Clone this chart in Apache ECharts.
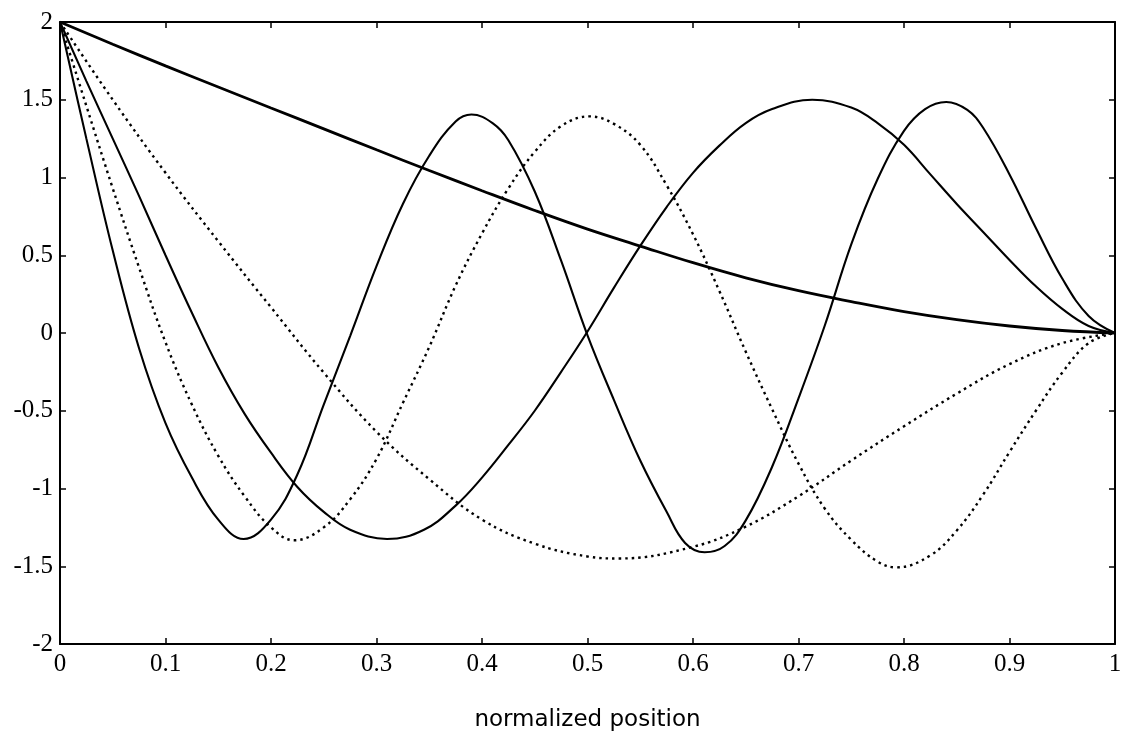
<!DOCTYPE html>
<html>
<head>
<meta charset="utf-8">
<script src="https://cdn.jsdelivr.net/npm/echarts@6/dist/echarts.min.js"></script>
<style>
  html, body { margin: 0; padding: 0; background: #fff; }
  #chart { width: 1128px; height: 744px; }
</style>
</head>
<body>
<div id="chart"></div>
<script>
// Sample positions (normalized) and mode-shape values, one pair of arrays per mode
const mode1Pos = [0, 0.05, 0.1, 0.15, 0.2, 0.25, 0.3, 0.35, 0.4, 0.45, 0.5,
  0.55, 0.6, 0.65, 0.7, 0.75, 0.8, 0.85, 0.9, 0.95, 1];
const mode1 = [2, 1.857, 1.718, 1.582, 1.447, 1.313, 1.178, 1.045, 0.915, 0.788, 0.668,
  0.559, 0.452, 0.355, 0.272, 0.202, 0.138, 0.086, 0.045, 0.016, 0];

const mode2Pos = [0, 0.05, 0.1, 0.15, 0.2, 0.25, 0.3, 0.35, 0.4, 0.45, 0.5,
  0.53, 0.6, 0.65, 0.7, 0.75, 0.8, 0.85, 0.9, 0.95, 1];
const mode2 = [2, 1.5, 1.03, 0.59, 0.165, -0.255, -0.635, -0.94, -1.2, -1.355, -1.437,
  -1.45, -1.375, -1.245, -1.05, -0.82, -0.6, -0.39, -0.2, -0.065, 0];

const mode3Pos = [0, 0.025, 0.05, 0.075, 0.1, 0.125, 0.15, 0.175, 0.2, 0.225,
  0.25, 0.275, 0.31, 0.345, 0.375, 0.4, 0.425, 0.45, 0.475, 0.5,
  0.525, 0.55, 0.575, 0.6, 0.625, 0.65, 0.675, 0.713, 0.75, 0.775,
  0.8, 0.825, 0.85, 0.875, 0.9, 0.925, 0.95, 0.975, 1];
const mode3 = [2, 1.62, 1.25, 0.88, 0.5, 0.13, -0.22, -0.52, -0.77, -0.99,
  -1.15, -1.265, -1.325, -1.265, -1.11, -0.93, -0.72, -0.5, -0.25, 0.01,
  0.29, 0.56, 0.81, 1.03, 1.205, 1.35, 1.44, 1.5, 1.45, 1.35,
  1.21, 1.02, 0.83, 0.65, 0.47, 0.3, 0.155, 0.045, 0];

const mode4Pos = [0, 0.025, 0.05, 0.075, 0.1, 0.125, 0.15, 0.175, 0.2, 0.222,
  0.25, 0.275, 0.3, 0.325, 0.35, 0.375, 0.4, 0.425, 0.45, 0.475,
  0.502, 0.525, 0.55, 0.575, 0.6, 0.625, 0.65, 0.675, 0.7, 0.725,
  0.75, 0.775, 0.793, 0.825, 0.85, 0.875, 0.9, 0.925, 0.95, 0.975, 1];
const mode4 = [2, 1.46, 0.93, 0.42, -0.06, -0.46, -0.79, -1.05, -1.25, -1.333,
  -1.25, -1.07, -0.81, -0.45, -0.09, 0.305, 0.64, 0.93, 1.165, 1.33,
  1.393, 1.345, 1.21, 0.95, 0.635, 0.27, -0.12, -0.49, -0.84, -1.13,
  -1.33, -1.47, -1.507, -1.43, -1.27, -1.04, -0.765, -0.5, -0.255, -0.065, 0];

const mode5Pos = [0, 0.025, 0.05, 0.075, 0.1, 0.125, 0.15, 0.174, 0.2, 0.225,
  0.25, 0.275, 0.3, 0.325, 0.35, 0.375, 0.39, 0.41, 0.425, 0.45,
  0.475, 0.5, 0.525, 0.55, 0.575, 0.5925, 0.611, 0.63, 0.65, 0.675,
  0.7, 0.725, 0.75, 0.775, 0.8, 0.82, 0.84, 0.86, 0.875, 0.9,
  0.925, 0.95, 0.975, 1];
const mode5 = [2, 1.25, 0.53, -0.1, -0.58, -0.93, -1.2, -1.325, -1.2, -0.91,
  -0.46, -0.02, 0.43, 0.83, 1.14, 1.36, 1.405, 1.35, 1.24, 0.91,
  0.465, -0.015, -0.43, -0.82, -1.15, -1.35, -1.41, -1.37, -1.205, -0.86,
  -0.42, 0.05, 0.57, 0.99, 1.3, 1.44, 1.486, 1.435, 1.32, 1.02,
  0.675, 0.35, 0.11, 0];

const yRange = [-2, 2];
const xRange = [0, 1];

function pairs(xs, ys) {
  return xs.map((x, i) => [x, ys[i]]);
}

const ink = '#000';
const serif = '"Liberation Serif", "DejaVu Serif", serif';

function curve(name, xs, ys, dotted, width) {
  return {
    name: name,
    type: 'line',
    data: pairs(xs, ys),
    showSymbol: false,
    smooth: 0.4,
    lineStyle: {
      color: ink,
      width: width,
      type: dotted ? [2.5, 4] : 'solid'
    },
    z: 3
  };
}

const frameAxis = {
  axisLine: { show: true, onZero: false, lineStyle: { color: ink, width: 2 } },
  axisTick: { show: true, inside: true, length: 6, lineStyle: { color: ink, width: 1.5 } },
  splitLine: { show: false }
};

const chart = echarts.init(document.getElementById('chart'), null, { renderer: 'canvas' });
chart.setOption({
  animation: false,
  backgroundColor: '#fff',
  grid: { left: 60, right: 13, top: 22, bottom: 100 },
  xAxis: [
    Object.assign({
      type: 'value', min: xRange[0], max: xRange[1], interval: 0.1, position: 'bottom',
      name: 'normalized position', nameLocation: 'middle', nameGap: 65,
      nameTextStyle: { fontFamily: '"DejaVu Sans", sans-serif', fontSize: 23, color: ink },
      axisLabel: { color: ink, fontFamily: serif, fontSize: 25, margin: 8 }
    }, frameAxis),
    Object.assign({
      type: 'value', min: xRange[0], max: xRange[1], interval: 0.1, position: 'top',
      axisLabel: { show: false }
    }, frameAxis)
  ],
  yAxis: [
    Object.assign({
      type: 'value', min: yRange[0], max: yRange[1], interval: 0.5, position: 'left',
      axisLabel: { color: ink, fontFamily: serif, fontSize: 25, margin: 7 }
    }, frameAxis),
    Object.assign({
      type: 'value', min: yRange[0], max: yRange[1], interval: 0.5, position: 'right',
      axisLabel: { show: false }
    }, frameAxis)
  ],
  series: [
    curve('mode 1', mode1Pos, mode1, false, 2.8),
    curve('mode 2', mode2Pos, mode2, true, 2.4),
    curve('mode 3', mode3Pos, mode3, false, 2.1),
    curve('mode 4', mode4Pos, mode4, true, 2.4),
    curve('mode 5', mode5Pos, mode5, false, 2.1)
  ]
});
</script>
</body>
</html>
